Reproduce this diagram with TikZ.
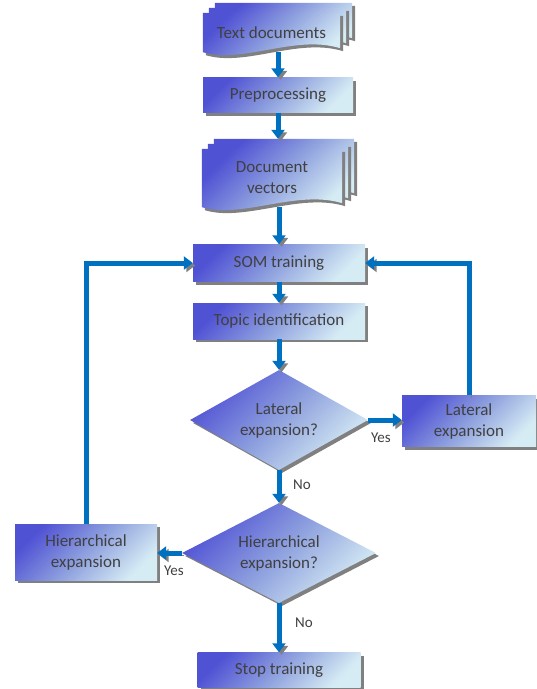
\documentclass[tikz,border=0pt]{standalone}
\usepackage{fontspec}
\setmainfont{Carlito}
\usetikzlibrary{positioning,calc,shapes.geometric,shadows,arrows.meta}
\pgfdeclarelayer{background}
\pgfsetlayers{background,main}
\definecolor{boxdark}{RGB}{80,82,212}
\definecolor{boxmid}{RGB}{142,160,222}
\definecolor{boxlight}{RGB}{214,236,244}
\definecolor{flowblue}{RGB}{0,112,192}
\definecolor{shadowgray}{RGB}{128,128,128}
\definecolor{textgray}{RGB}{64,64,64}
\begin{document}
\begin{tikzpicture}[x=1pt,y=-1pt,
	boxfill/.style={left color=boxdark, right color=boxlight, middle color=boxmid, shading angle=45,
		drop shadow={shadow xshift=3pt, shadow yshift=-3pt, fill=shadowgray, opacity=1}},
	stepnode/.style={rectangle, boxfill, inner sep=0pt, text=textgray, align=center, font=\fontsize{17}{21}\selectfont},
	asknode/.style={diamond, boxfill, inner sep=0pt, aspect=1.8, text=textgray, align=center, font=\fontsize{17}{21}\selectfont},
	docnode/.style={inner sep=0pt, text=textgray, align=center, font=\fontsize{17}{21}\selectfont},
	answer/.style={text=textgray, font=\fontsize{15}{18}\selectfont},
	flow/.style={line width=5pt, draw=flowblue, -{Triangle[length=9pt,width=13pt]},
		preaction={draw=shadowgray, transform canvas={shift={(2.5pt,-2.5pt)}}}},
	]
	\useasboundingbox (0,0) rectangle (537,689);
	%Nodes
	\node[docnode, minimum width=137pt, minimum height=39pt]	(textdocs)	at (271.5,32.5)	{Text documents};
	\node[stepnode, minimum width=150pt, minimum height=35pt]	(prep)		at (278,95)		{Preprocessing};
	\node[docnode, minimum width=140pt, minimum height=58pt]	(docvec)	at (272,178)	{Document\\vectors};
	\node[stepnode, minimum width=172pt, minimum height=37pt]	(som)		at (279,263)	{SOM training};
	\node[stepnode, minimum width=172pt, minimum height=36pt]	(topic)		at (279,321)	{Topic identification};
	\node[asknode, minimum width=178pt, minimum height=100pt]	(latask)	at (279,420)	{Lateral\\expansion?};
	\node[stepnode, minimum width=134pt, minimum height=51pt]	(latbox)	at (469,421)	{Lateral\\expansion};
	\node[asknode, minimum width=194pt, minimum height=100pt]	(hierask)	at (279,553)	{Hierarchical\\expansion?};
	\node[stepnode, minimum width=142pt, minimum height=56pt]	(hierbox)	at (86,552)		{Hierarchical\\expansion};
	\node[stepnode, minimum width=163pt, minimum height=35pt]	(stop)		at (279,670)	{Stop training};
	\node[answer]	(latyes)	at (381,438)	{Yes};
	\node[answer]	(latno)		at (302,485)	{No};
	\node[answer]	(hieryes)	at (174,571)	{Yes};
	\node[answer]	(hierno)	at (304,623)	{No};

	\begin{pgfonlayer}{background}
	%Pages
	\foreach \doc in {textdocs,docvec}{
		\foreach \k in {2,1,0}{
			\path[boxfill] ($(\doc.north west)+(6*\k,-5*\k)$) -- ($(\doc.north east)+(6*\k,-5*\k)$)
				-- ($(\doc.south east)+(6*\k,-5*\k-4)$)
				.. controls ($(\doc.south east)+(6*\k-45,-5*\k-18)$) and ($(\doc.south west)+(6*\k+40,-5*\k+12)$)
				.. ($(\doc.south west)+(6*\k,-5*\k)$) -- cycle;
		}
	}
	\end{pgfonlayer}

	%Lines
	\draw[flow] (textdocs.south -| prep.north) -- (prep.north);
	\draw[flow] (prep.south) -- ($(docvec.north -| prep.south)+(0,-10)$);
	\draw[flow] (docvec.south -| som.north) -- (som.north);
	\draw[flow] (som.south) -- (topic.north);
	\draw[flow] (topic.south) -- (latask.north);
	\draw[flow] (latask.east) -- (latask.east -| latbox.west);
	\draw[flow] (latbox.north) |- (som.east);
	\draw[flow] (latask.south) -- (hierask.north);
	\draw[flow] (hierask.west) -- (hierask.west -| hierbox.east);
	\draw[flow] (hierbox.north) |- (som.west);
	\draw[flow] (hierask.south) -- (stop.north);
\end{tikzpicture}
\end{document}
